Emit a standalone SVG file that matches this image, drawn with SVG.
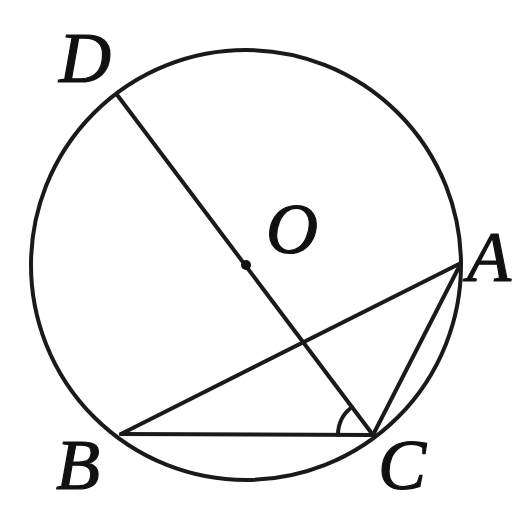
<svg xmlns="http://www.w3.org/2000/svg" width="530" height="505" viewBox="0 0 530 505">
<style>
.ln{stroke:#1a1a1a;stroke-width:4;fill:none;stroke-linecap:round}
.lb{font-family:"Liberation Serif","Times New Roman",serif;font-style:italic;font-size:72px;fill:#111;stroke:#111;stroke-width:1.2}
</style>
<rect width="530" height="505" fill="#fff"/>
<g id="circle"><circle class="ln" cx="246" cy="265" r="215"/></g>
<g id="connectors">
<line class="ln" x1="118" y1="96" x2="373" y2="435"/>
<line class="ln" x1="461" y1="263" x2="121" y2="434"/>
<line class="ln" x1="121" y1="434" x2="373" y2="435"/>
<line class="ln" x1="461" y1="263" x2="373" y2="435"/>
<path class="ln" d="M338 435 A35 35 0 0 1 352 407" stroke-width="3"/>
</g>
<g id="O"><circle cx="246" cy="265" r="5" fill="#111"/><text class="lb" x="266" y="253">O</text></g>
<g id="D"><text class="lb" x="59" y="82">D</text></g>
<g id="A"><text class="lb" x="467" y="281">A</text></g>
<g id="B"><text class="lb" x="56" y="489">B</text></g>
<g id="C"><text class="lb" x="378" y="489">C</text></g>
</svg>
